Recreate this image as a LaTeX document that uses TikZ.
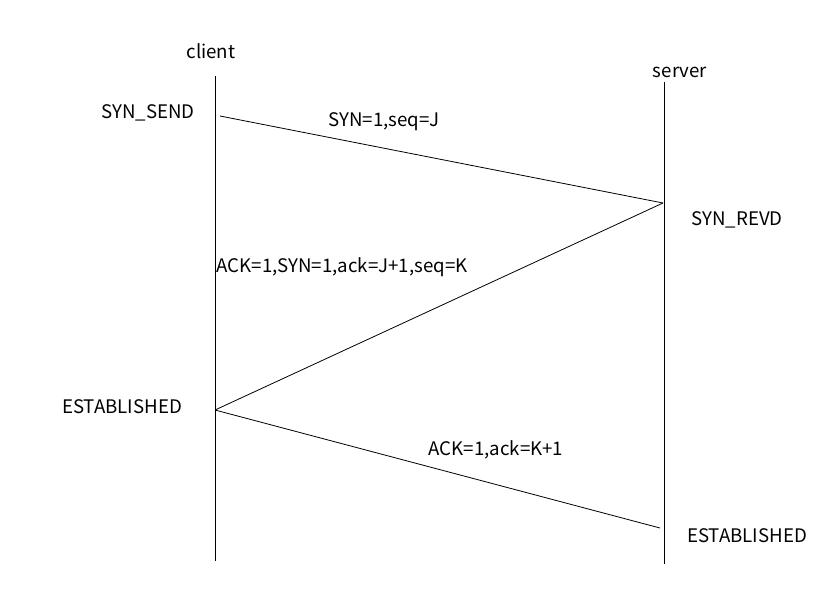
\documentclass[tikz,border=0pt]{standalone}
\usepackage{fontspec}
\setmainfont{Noto Sans CJK SC}
\begin{document}
\begin{tikzpicture}[x=0.75pt,y=-0.75pt,
  lbl/.style={inner sep=0pt,font=\fontsize{14pt}{16pt}\selectfont},
  life/.style={line width=0.75pt},
  msg/.style={line width=0.6pt}]
\useasboundingbox (0,0) rectangle (837,596);
% lifelines
\coordinate (ctop) at (215,76);
\coordinate (cbot) at (215,561);
\coordinate (stop) at (664,82);
\coordinate (sbot) at (664,564);
\draw[life] (ctop) -- (cbot);
\draw[life] (stop) -- (sbot);
% message endpoints
\coordinate (m1a) at (220,116);
\coordinate (m1b) at (663,203);
\coordinate (m2b) at (215,410);
\coordinate (m3b) at (660,528);
\draw[msg] (m1a) -- (m1b);
\draw[msg] (m1b) -- (m2b);
\draw[msg] (m2b) -- (m3b);
% labels
\node[lbl] (client) at (211,51) {client};
\node[lbl] (server) at (680,72) {server};
\node[lbl] (synsend) at (148,113) {SYN\_SEND};
\node[lbl] (syn) at (384,122) {SYN=1,seq=J};
\node[lbl] (synrevd) at (737,220) {SYN\_REVD};
\node[lbl] (ack1) at (342,267) {ACK=1,SYN=1,ack=J+1,seq=K};
\node[lbl] (estc) at (122,407) {ESTABLISHED};
\node[lbl] (ack2) at (496,450) {ACK=1,ack=K+1};
\node[lbl] (ests) at (747,536) {ESTABLISHED};
\end{tikzpicture}
\end{document}
